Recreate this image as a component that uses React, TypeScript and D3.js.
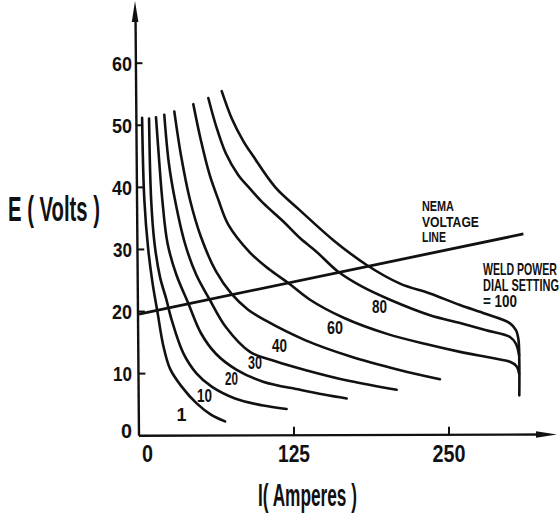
import React, { useLayoutEffect, useRef, useState } from 'react';
import * as d3 from 'd3';

type Pt = [number, number];

// axis ticks
const yTicks = [0, 10, 20, 30, 40, 50, 60];
const xTicks = [0, 125, 250];

// dial settings (curve labels)
const dialSettings = [1, 10, 20, 30, 40, 60, 80, 100];

// curves: [amperes, volts]
const curve1: Pt[] = [[2.5, 51.2], [4.3, 38], [7.5, 29.9], [11, 24.5], [15, 19.8], [19.6, 14.5], [25, 10.8], [34.4, 7.9], [46.5, 5.2], [58, 3.4], [69.4, 2.3]];
const curve10: Pt[] = [[8.1, 51.1], [9.8, 38], [12.5, 31], [17, 25.5], [22, 22], [26.4, 18.6], [35.7, 13.3], [46.5, 10], [58.6, 7.9], [77.4, 6], [99, 4.9], [119, 4.3]];
const curve20: Pt[] = [[13.7, 51.3], [16, 45], [18.8, 38], [23, 31], [30, 26], [39.8, 21.3], [50, 16.5], [62, 13.2], [78.8, 10.6], [100, 8.7], [129.8, 7.4], [150, 6.6], [167.5, 6.0]];
const curve30: Pt[] = [[20.4, 51.7], [24, 44], [29, 38], [37, 31], [46, 26], [56.5, 22.1], [70, 17.5], [89.5, 13.5], [110, 12], [133.9, 10.6], [170, 8.8], [207.8, 7.4]];
const curve40: Pt[] = [[28.5, 52.2], [34, 45], [41.1, 38], [50, 32], [62, 26.5], [74.8, 22.8], [88, 20.3], [101.6, 18.6], [133.9, 15.4], [170, 12.8], [210, 10.6], [242.7, 9.1]];
const curve60: Pt[] = [[43.8, 53.4], [50, 47.5], [57, 42], [64, 38], [72, 34], [89.5, 29.5], [105, 26.8], [120.4, 24.6], [137.9, 21.9], [165, 19], [200, 16.4], [234.7, 14.6], [258.9, 13.5], [285, 12.5], [299.2, 11.9], [304.5, 11.2], [306.5, 10]];
const curve80: Pt[] = [[55.9, 54.4], [62, 50], [70, 45.5], [80, 42], [89.5, 39.8], [100, 37.5], [116.4, 34.5], [130, 31.8], [143.3, 29.6], [160.7, 26.4], [180, 24], [202.4, 21.9], [234.7, 19.4], [258.9, 18.15], [280, 17], [299.2, 15.9], [304, 14.8], [306.5, 13]];
const curve100: Pt[] = [[66.7, 55.5], [75, 51], [84, 47.5], [92.2, 45], [110, 40], [129.8, 36.3], [156.7, 31.5], [183.6, 27.5], [210.5, 24.5], [234.7, 22.9], [258.9, 21.05], [280, 19.6], [299.2, 18.1], [304, 17], [306, 15.5], [306.7, 12], [306.7, 6.5]];

const curves: Pt[][] = [curve1, curve10, curve20, curve30, curve40, curve60, curve80, curve100];

// NEMA voltage line endpoints [amperes, volts]
const nemaLine: Pt[] = [[0, 19.6], [310, 32.5]];

// curve label anchors in data units [amperes, volts]
const labelAnchors: Pt[] = [[34.3, 2.37], [52.8, 5.43], [74.6, 8.17], [93.5, 10.75], [113.3, 13.5], [158, 16.4], [194, 19.8]];

const FONT = "'Liberation Sans Narrow', 'Liberation Sans', Arial, sans-serif";

// Text condensed horizontally to a target width via a scale transform
function CText(props: { x: number; y: number; w: number; size: number; children: React.ReactNode }) {
  const { x, y, w, size, children } = props;
  const ref = useRef<SVGTextElement>(null);
  const [sx, setSx] = useState(1);
  useLayoutEffect(() => {
    if (ref.current) {
      const n = ref.current.getComputedTextLength();
      if (n > 0) setSx(w / n);
    }
  }, [w, size, children]);
  return (
    <text
      ref={ref}
      transform={`translate(${x},${y}) scale(${sx},1)`}
      fontFamily={FONT}
      fontWeight="bold"
      fontSize={size}
      fill="#111"
    >
      {children}
    </text>
  );
}

export default function App() {
  const x = d3.scaleLinear().domain([0, 250]).range([139, 449]);
  const y = d3.scaleLinear().domain([0, 60]).range([435.7, 63.2]);
  const line = d3
    .line<Pt>()
    .x((d) => x(d[0]))
    .y((d) => y(d[1]))
    .curve(d3.curveCatmullRom.alpha(0.5));
  const straight = d3
    .line<Pt>()
    .x((d) => x(d[0]))
    .y((d) => y(d[1]));

  const yLabelW: Record<number, number> = { 0: 11, 10: 19, 20: 20, 30: 19, 40: 20, 50: 20, 60: 20 };
  const xLabelW: Record<number, number> = { 0: 11, 125: 32, 250: 33 };
  const curveLabelW = [10, 15, 13, 14, 15, 16, 15];

  const axisX0 = x(0);
  const axisY0 = y(0);

  return (
    <div style={{ position: 'absolute', left: 0, top: 0 }}>
      <svg width={560} height={513} style={{ display: 'block', background: '#fff' }}>
        <rect x={0} y={0} width={560} height={513} fill="#fff" />
        {/* y axis */}
        <line x1={axisX0} y1={axisY0} x2={135.5} y2={14} stroke="#111" strokeWidth={2.4} />
        <polygon points="135,1 131.8,22 138.4,22" fill="#111" />
        {/* x axis */}
        <line x1={axisX0} y1={axisY0} x2={545} y2={434.5} stroke="#111" strokeWidth={2.4} />
        <polygon points="557,434.5 536,431.3 536,437.7" fill="#111" />

        {/* y ticks */}
        {yTicks.filter((t) => t > 0).map((t) => {
          const yy = y(t);
          const ax = axisX0 - (4 * (axisY0 - yy)) / (axisY0 - 14);
          return <line key={'yt' + t} x1={ax} y1={yy} x2={ax + 7} y2={yy} stroke="#111" strokeWidth={2} />;
        })}
        {yTicks.map((t) => (
          <CText key={'yl' + t} x={132 - yLabelW[t]} y={y(t) + (t === 0 ? 2 : 7.5)} w={yLabelW[t]} size={21}>
            {t}
          </CText>
        ))}

        {/* x ticks */}
        {xTicks.filter((t) => t > 0).map((t) => (
          <line key={'xt' + t} x1={x(t)} y1={axisY0} x2={x(t)} y2={axisY0 - 9} stroke="#111" strokeWidth={2} />
        ))}
        {xTicks.map((t) => {
          const cx = t === 0 ? x(t) + 8.5 : x(t);
          return (
            <CText key={'xl' + t} x={cx - xLabelW[t] / 2} y={462} w={xLabelW[t]} size={24}>
              {t}
            </CText>
          );
        })}

        {/* axis titles */}
        <CText x={8} y={221} w={92} size={35}>E ( Volts )</CText>
        <CText x={258} y={506} w={99} size={32}>I( Amperes )</CText>

        {/* NEMA line */}
        <path d={straight(nemaLine) || ''} fill="none" stroke="#111" strokeWidth={2.8} />

        {/* curves */}
        {curves.map((c, i) => (
          <path key={'c' + i} d={line(c) || ''} fill="none" stroke="#111" strokeWidth={2.6} strokeLinecap="round" />
        ))}

        {/* curve labels */}
        {labelAnchors.map((a, i) => (
          <CText key={'cl' + i} x={x(a[0]) - curveLabelW[i] / 2} y={y(a[1])} w={curveLabelW[i]} size={19}>
            {dialSettings[i]}
          </CText>
        ))}

        {/* annotations */}
        <CText x={422} y={211} w={32} size={14}>NEMA</CText>
        <CText x={422} y={227} w={57} size={14}>VOLTAGE</CText>
        <CText x={422} y={242} w={24} size={14}>LINE</CText>
        <CText x={483} y={275} w={74} size={16}>WELD POWER</CText>
        <CText x={483} y={291} w={76} size={16}>DIAL SETTING</CText>
        <CText x={483} y={307} w={34} size={16}>{'= ' + dialSettings[7]}</CText>
      </svg>
    </div>
  );
}
